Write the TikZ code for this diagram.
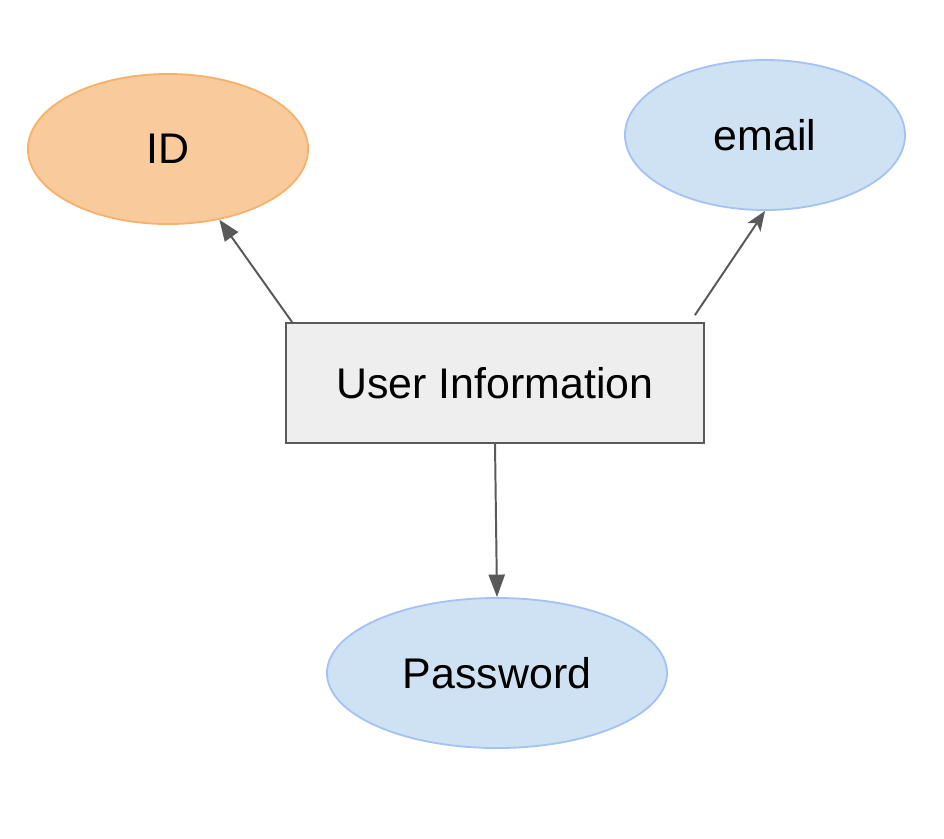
\documentclass[tikz,border=0pt]{standalone}
\usepackage{xcolor}
\usepackage{fontspec}
\setmainfont{Liberation Sans}
\usetikzlibrary{shapes.geometric,arrows.meta}

\definecolor{idfill}{HTML}{F9CB9C}
\definecolor{idline}{HTML}{F6B26B}
\definecolor{attrfill}{HTML}{CFE2F3}
\definecolor{attrline}{HTML}{A4C2F4}
\definecolor{boxfill}{HTML}{EEEEEE}
\definecolor{edgegray}{HTML}{595959}

\begin{document}
\begin{tikzpicture}[x=0.025cm, y=-0.025cm,
    every node/.style={font=\fontsize{30.5}{36}\selectfont},
    attr/.style={ellipse, draw=attrline, fill=attrfill, line width=1.3pt, minimum width=7cm, minimum height=3.75cm, inner sep=0pt},
    entity/.style={rectangle, draw=edgegray, fill=boxfill, line width=1.2pt, minimum width=10.45cm, minimum height=3cm},
    link/.style={draw=edgegray, line width=1.4pt}]
    \useasboundingbox (0,0) rectangle (944,838);

    \node[entity] (info) at (495,383) {User Information};
    \node[attr, draw=idline, fill=idfill] (id) at (168,149) {ID};
    \node[attr] (email) at (765,135) {email};
    \node[attr, minimum width=8.5cm] (pw) at (497,673) {Password};

    \coordinate (emailstart) at ([xshift=-0.25cm, yshift=0.175cm]info.north east);

    \draw[link, -{Triangle[length=15pt, width=11.5pt]}] ([xshift=0.175cm]info.north west) -- (id.-54);
    \draw[link, -{Stealth[length=14pt, width=11pt, inset=3.5pt]}] (emailstart) -- (email.south);
    \draw[link, -{Triangle[length=16pt, width=11.5pt]}] (info.south) -- (pw.north);
\end{tikzpicture}
\end{document}
